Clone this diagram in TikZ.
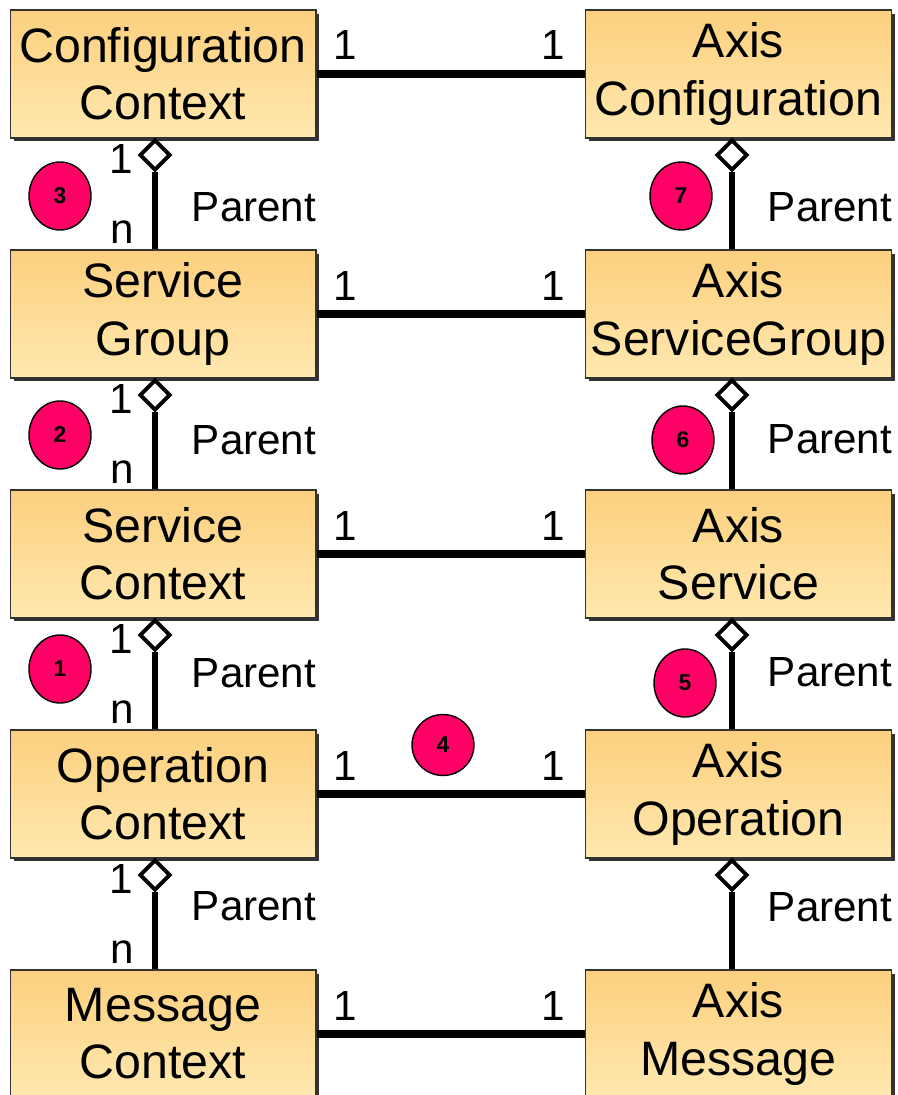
\documentclass[tikz,border=0pt]{standalone}
\usepackage{fontspec}
\setmainfont{Liberation Sans}
\usetikzlibrary{shapes.geometric, shadows}
\definecolor{boxtop}{RGB}{252,208,126}
\definecolor{boxbot}{RGB}{255,232,176}
\definecolor{markred}{RGB}{255,0,102}

\begin{document}
\begin{tikzpicture}[x=0.02cm, y=-0.02cm,
    classbox/.style={rectangle, minimum width=6.12cm, minimum height=2.56cm, inner sep=0pt, align=center,
      top color=boxtop, bottom color=boxbot, draw=black!80, line width=0.6pt,
      drop shadow={shadow xshift=0.07cm, shadow yshift=-0.07cm, fill=black!80, opacity=1},
      font=\fontsize{27.5}{32.5}\selectfont},
    assoc/.style={line width=4pt},
    agg/.style={line width=3pt},
    aggdiamond/.style={diamond, draw, fill=white, line width=2.2pt, minimum width=0.62cm, minimum height=0.62cm, inner sep=0pt},
    mult/.style={inner sep=0pt, font=\fontsize{24}{28}\selectfont},
    marker/.style={ellipse, draw=black, fill=markred, line width=0.8pt, minimum width=1.24cm, minimum height=1.36cm, inner sep=0pt,
      font=\fontsize{13}{15}\selectfont\bfseries}]
  \useasboundingbox (0,0) rectangle (897,1095);

  % Context side
  \node[classbox] (cfgctx) at (163,74) {Configuration\\Context};
  \node[classbox] (sgctx) at (163,314) {Service\\Group};
  \node[classbox] (svcctx) at (163,554) {Service\\Context};
  \node[classbox] (opctx) at (163,794) {Operation\\Context};
  \node[classbox] (msgctx) at (163,1034) {Message\\Context};

  % Description side
  \node[classbox] (axiscfg) at (738.5,74) {Axis\\Configuration};
  \node[classbox] (axissg) at (738.5,314) {Axis\\ServiceGroup};
  \node[classbox] (axissvc) at (738.5,554) {Axis\\Service};
  \node[classbox] (axisop) at (738.5,794) {Axis\\Operation};
  \node[classbox] (axismsg) at (738.5,1034) {Axis\\Message};

  % 1 : 1 associations
  \draw[assoc] (cfgctx.east) -- (axiscfg.west);
  \draw[assoc] (sgctx.east) -- (axissg.west);
  \draw[assoc] (svcctx.east) -- (axissvc.west);
  \draw[assoc] (opctx.east) -- (axisop.west);
  \draw[assoc] (msgctx.east) -- (axismsg.west);
  \node[mult] (m1l) at (345,45) {1};
  \node[mult] (m1r) at (553,45) {1};
  \node[mult] (m2l) at (345,286) {1};
  \node[mult] (m2r) at (553,286) {1};
  \node[mult] (m3l) at (345,526) {1};
  \node[mult] (m3r) at (553,526) {1};
  \node[mult] (m4l) at (345,766) {1};
  \node[mult] (m4r) at (553,766) {1};
  \node[mult] (m5l) at (345,1006) {1};
  \node[mult] (m5r) at (553,1006) {1};

  % Parent aggregations, context side
  \node[aggdiamond] (d1l) at (155,155) {};
  \node[aggdiamond] (d2l) at (155,395) {};
  \node[aggdiamond] (d3l) at (155,635) {};
  \node[aggdiamond] (d4l) at (155,875) {};
  \draw[agg] (d1l.south) -- (d1l.south |- sgctx.north);
  \draw[agg] (d2l.south) -- (d2l.south |- svcctx.north);
  \draw[agg] (d3l.south) -- (d3l.south |- opctx.north);
  \draw[agg] (d4l.south) -- (d4l.south |- msgctx.north);
  \node[mult] (o1) at (121,159) {1};
  \node[mult] (o2) at (121,399) {1};
  \node[mult] (o3) at (121,639) {1};
  \node[mult] (o4) at (121,879) {1};
  \node[mult] (n1) at (122,232) {n};
  \node[mult] (n2) at (122,472) {n};
  \node[mult] (n3) at (122,712) {n};
  \node[mult] (n4) at (122,952) {n};
  \node[mult] (p1l) at (254,207) {Parent};
  \node[mult] (p2l) at (254,440) {Parent};
  \node[mult] (p3l) at (254,673) {Parent};
  \node[mult] (p4l) at (254,906) {Parent};

  % Parent aggregations, description side
  \node[aggdiamond] (d1r) at (732,155) {};
  \node[aggdiamond] (d2r) at (732,395) {};
  \node[aggdiamond] (d3r) at (732,635) {};
  \node[aggdiamond] (d4r) at (732,875) {};
  \draw[agg] (d1r.south) -- (d1r.south |- axissg.north);
  \draw[agg] (d2r.south) -- (d2r.south |- axissvc.north);
  \draw[agg] (d3r.south) -- (d3r.south |- axisop.north);
  \draw[agg] (d4r.south) -- (d4r.south |- axismsg.north);
  \node[mult] (p1r) at (830,207) {Parent};
  \node[mult] (p2r) at (830,439) {Parent};
  \node[mult] (p3r) at (830,672) {Parent};
  \node[mult] (p4r) at (830,907) {Parent};

  % Numbered markers
  \node[marker] (c1) at (60,669) {1};
  \node[marker] (c2) at (60,435) {2};
  \node[marker] (c3) at (60,196) {3};
  \node[marker, minimum height=1.22cm] (c4) at (443,745) {4};
  \node[marker] (c5) at (685,683) {5};
  \node[marker] (c6) at (683,440) {6};
  \node[marker] (c7) at (681,196) {7};
\end{tikzpicture}
\end{document}
